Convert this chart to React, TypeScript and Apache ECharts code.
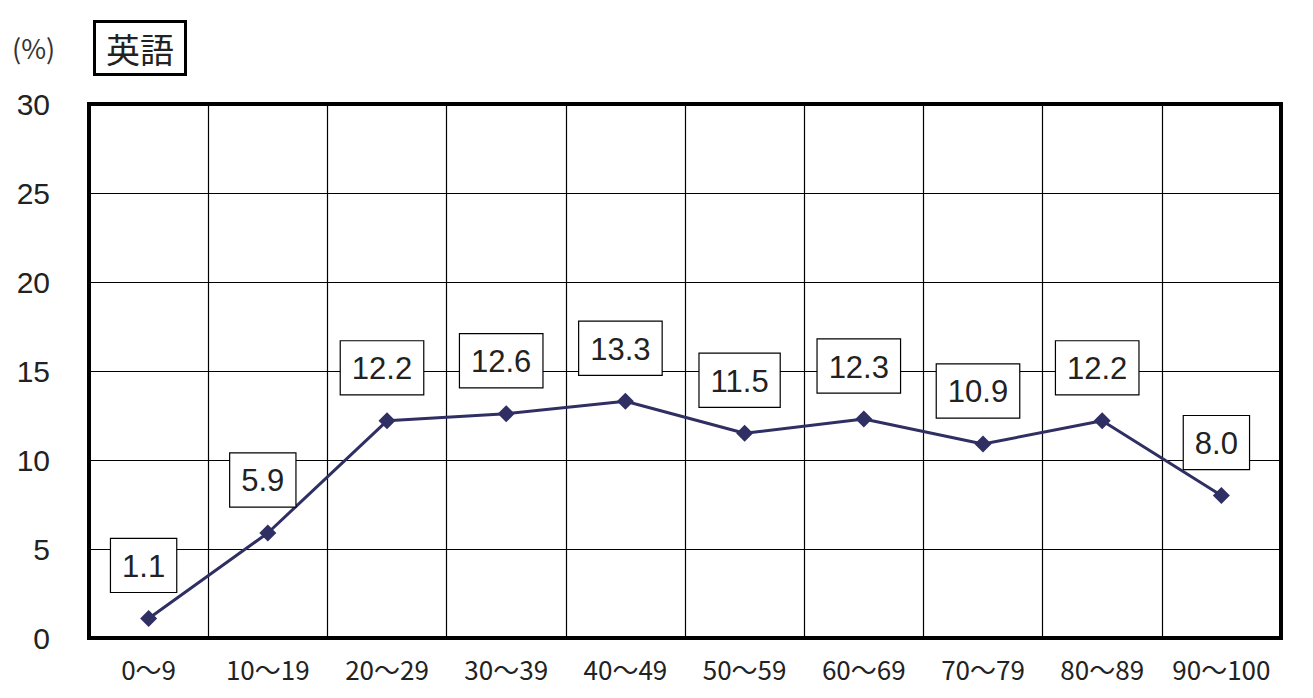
import React, { useEffect, useRef } from "react";
import * as echarts from "echarts";

const categories = ["0〜9", "10〜19", "20〜29", "30〜39", "40〜49", "50〜59", "60〜69", "70〜79", "80〜89", "90〜100"];
const values = [1.1, 5.9, 12.2, 12.6, 13.3, 11.5, 12.3, 10.9, 12.2, 8.0];
const yTicks = { min: 0, max: 30, interval: 5 };
const titleText = "英語";
const unitText = "(%)";

export default function App() {
  const ref = useRef<HTMLDivElement>(null);
  useEffect(() => {
    const chart = echarts.init(ref.current!, null, { renderer: "svg" });
    chart.setOption({
      animation: false,
      backgroundColor: "#ffffff",
      title: {
        text: titleText,
        left: 94,
        top: 21,
        borderColor: "#000",
        borderWidth: 3,
        padding: [9, 12, 9, 12],
        textStyle: { fontSize: 34, lineHeight: 36, fontWeight: "normal", color: "#222", fontFamily: "Noto Sans CJK JP" },
      },
      graphic: [
        {
          type: "text",
          left: 12,
          top: 34,
          style: { text: unitText, fontSize: 27, fill: "#333", fontFamily: "Noto Sans CJK JP" },
        },
      ],
      grid: {
        left: 89,
        right: 32,
        top: 104,
        bottom: 60,
        show: true,
        borderColor: "#000",
        borderWidth: 4,
        containLabel: false,
      },
      xAxis: {
        type: "category",
        data: categories,
        boundaryGap: true,
        axisLine: { show: false },
        axisTick: { show: false },
        splitLine: { show: true, interval: 0, lineStyle: { color: "#000", width: 1.2 } },
        axisLabel: {
          interval: 0,
          margin: 17,
          fontSize: 26,
          color: "#222",
          fontFamily: "Noto Sans CJK JP",
        },
      },
      yAxis: {
        type: "value",
        min: yTicks.min,
        max: yTicks.max,
        interval: yTicks.interval,
        axisLine: { show: false },
        axisTick: { show: false },
        splitLine: { show: true, lineStyle: { color: "#000", width: 1.2 } },
        axisLabel: {
          margin: 39,
          align: "right",
          fontSize: 30,
          color: "#222",
          fontFamily: "Liberation Sans, Arial, sans-serif",
        },
      },
      series: [
        {
          type: "line",
          data: values,
          symbol: "diamond",
          symbolSize: 17,
          itemStyle: { color: "#2f2f63" },
          lineStyle: { color: "#2f2f63", width: 3 },
          label: {
            show: true,
            position: "top",
            distance: 18,
            offset: [-5, 0],
            formatter: (p: any) => p.value.toFixed(1),
            fontSize: 31,
            color: "#222",
            fontFamily: "Liberation Sans Narrow, Liberation Sans, Arial, sans-serif",
            backgroundColor: "#fff",
            borderColor: "#000",
            borderWidth: 1.2,
            padding: [12, 11, 10, 11],
          },
        },
      ],
    });
    return () => chart.dispose();
  }, []);
  return (
    <div
      ref={ref}
      style={{ position: "fixed", left: 0, top: 0, width: 1313, height: 698 }}
    />
  );
}
